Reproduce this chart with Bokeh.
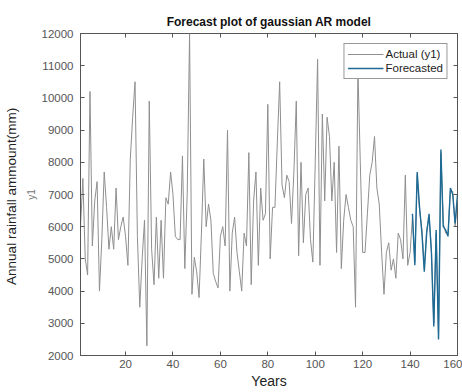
from bokeh.plotting import figure
from bokeh.models import LinearAxis, Range1d, Legend, LegendItem, FixedTicker
from bokeh.embed import file_html
from bokeh.resources import INLINE

years = list(range(1, 161))
actual = [
    6000, 7500, 5000, 4500, 10200, 5400, 6800, 7400, 4000, 5600,
    7700, 6600, 5300, 6000, 5300, 7200, 5600, 6000, 6300, 5700,
    4800, 8100, 9400, 10500, 5700, 3500, 5000, 6200, 2300, 9900,
    5300, 4200, 6300, 4400, 6200, 4400, 6900, 6700, 7700, 7000,
    5700, 5600, 5600, 8200, 4700, 7000, 12000, 3900, 5050, 4600,
    3800, 5800, 8100, 6000, 6700, 6200, 4550, 4300, 4100, 5700,
    6000, 5400, 9000, 4000, 5800, 6300, 5200, 4600, 4000, 5800,
    5400, 8300, 4200, 6800, 7700, 4800, 7200, 6200, 6400, 9800,
    5000, 6600, 6600, 8600, 10500, 7300, 6900, 7600, 7400, 6100,
    7700, 9900, 5100, 8000, 5500, 7000, 7200, 5600, 4900, 8000,
    11200, 4800, 9500, 6800, 9400, 8800, 6800, 8000, 5200, 8500,
    4700, 6200, 7000, 6600, 6200, 6000, 3500, 10900, 8000, 5200,
    5200, 6400, 7600, 8000, 8800, 7200, 6700, 5200, 3900, 5200,
    5500, 4650, 5000, 4400, 5800, 5600, 5000, 7600, 4800, 5200,
    6300, 4900, 7600, 6500, 5900, 4700, 5900, 6300, 5300, 3000,
    5800, 2600, 8300, 6100, 5800, 5800, 7100, 7100, 6000, 6900,
]
fc_years = list(range(141, 161))
forecast = [
    6400, 4800, 7700, 6600, 5800, 4600, 5800, 6400, 5200, 2900,
    5900, 2500, 8400, 6000, 5900, 5700, 7200, 7000, 6100, 7000,
]
x_ticks = [20, 40, 60, 80, 100, 120, 140, 160]
y_ticks = [2000, 3000, 4000, 5000, 6000, 7000, 8000, 9000, 10000, 11000, 12000]

FONT = "Liberation Sans"

p = figure(width=462, height=392, x_range=Range1d(1, 160), y_range=Range1d(2000, 12000),
           output_backend="svg", toolbar_location=None,
           min_border_left=79, min_border_right=5, min_border_top=33, min_border_bottom=37,
           title="Forecast plot of gaussian AR model")
p.title.align = "center"
p.title.text_font = FONT
p.title.text_font_style = "bold"
p.title.text_font_size = "12px"
p.title.text_color = "#111111"
p.title.offset = 0

p.xgrid.visible = False
p.ygrid.visible = False
p.outline_line_color = "#555555"
p.outline_line_width = 1

for ax in [p.xaxis[0], p.yaxis[0]]:
    ax.major_tick_in = 4
    ax.major_tick_out = 0
    ax.minor_tick_line_color = None
    ax.axis_line_color = "#555555"
    ax.major_tick_line_color = "#555555"
    ax.major_label_text_font = FONT
    ax.major_label_text_font_size = "11.5px"
    ax.major_label_text_color = "#555555"
    ax.axis_label_text_font = FONT
    ax.axis_label_text_font_style = "normal"

p.xaxis[0].ticker = FixedTicker(ticks=x_ticks)
p.xaxis[0].major_label_standoff = 4
p.xaxis[0].axis_label = "Years"
p.xaxis[0].axis_label_text_font_size = "14px"
p.xaxis[0].axis_label_text_color = "#222222"
p.xaxis[0].axis_label_standoff = 2

p.yaxis[0].ticker = FixedTicker(ticks=y_ticks)
p.yaxis[0].major_label_standoff = 7
p.yaxis[0].axis_label = "y1"
p.yaxis[0].axis_label_text_font_size = "10px"
p.yaxis[0].axis_label_text_color = "#777777"
p.yaxis[0].axis_label_standoff = 2

outer = LinearAxis(ticker=FixedTicker(ticks=[]), axis_label="Annual rainfall  ammount(mm)",
                   axis_line_color=None, major_tick_line_color=None, minor_tick_line_color=None,
                   major_label_text_color=None, major_label_standoff=0,
                   major_tick_in=0, major_tick_out=0,
                   axis_label_text_font=FONT, axis_label_text_font_style="normal",
                   axis_label_text_font_size="13.5px", axis_label_text_color="#222222",
                   axis_label_standoff=4)
p.add_layout(outer, "left")

top = LinearAxis(ticker=FixedTicker(ticks=x_ticks), major_tick_in=4, major_tick_out=0,
                 minor_tick_line_color=None, axis_line_color=None, major_tick_line_color="#555555",
                 major_label_text_color=None, major_label_standoff=0)
p.add_layout(top, "above")
right = LinearAxis(ticker=FixedTicker(ticks=y_ticks), major_tick_in=4, major_tick_out=0,
                   minor_tick_line_color=None, axis_line_color=None, major_tick_line_color="#555555",
                   major_label_text_color=None, major_label_standoff=0)
p.add_layout(right, "right")

r1 = p.line(years, actual, line_color="#8f8f8f", line_width=1)
r2 = p.line(fc_years, forecast, line_color="#1d6a95", line_width=1.4)

legend = Legend(items=[LegendItem(label="Actual (y1)", renderers=[r1]),
                       LegendItem(label="Forecasted", renderers=[r2])],
                location="top_right")
legend.margin = 10
legend.padding = 3
legend.spacing = 0
legend.glyph_width = 36
legend.glyph_height = 14
legend.label_height = 14
legend.label_standoff = 2
legend.label_text_font = FONT
legend.label_text_font_size = "11.5px"
legend.label_text_color = "#222222"
legend.border_line_color = "#333333"
legend.border_line_width = 1
legend.background_fill_color = "white"
legend.background_fill_alpha = 1
p.add_layout(legend)

open("out.html", "w").write(file_html(p, INLINE))
